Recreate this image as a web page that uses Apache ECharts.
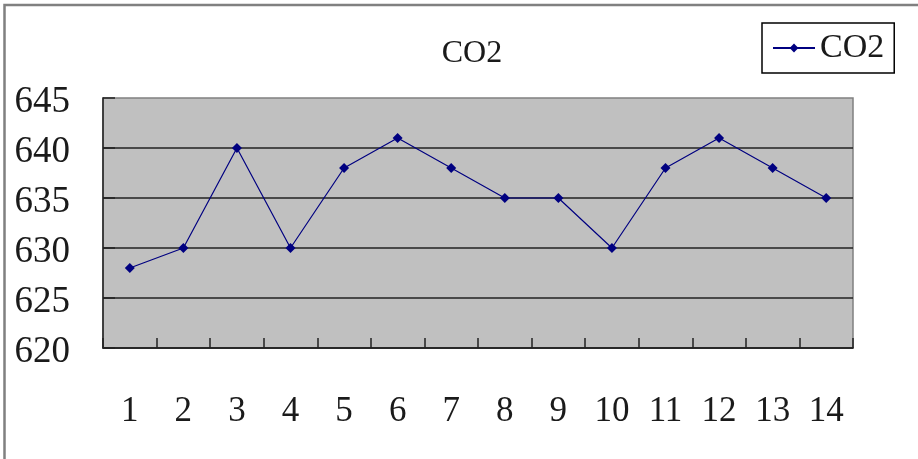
<!DOCTYPE html>
<html>
<head>
<meta charset="utf-8">
<script src="https://cdn.jsdelivr.net/npm/echarts@6/dist/echarts.min.js"></script>
<style>
html,body{margin:0;padding:0;background:#fff;}
#chart{width:918px;height:459px;}
</style>
</head>
<body>
<div id="chart"></div>
<script>
var categories = ['1','2','3','4','5','6','7','8','9','10','11','12','13','14'];
var co2Values = [628, 630, 640, 630, 638, 641, 638, 635, 635, 630, 638, 641, 638, 635];
var seriesName = 'CO2';
var titleText = 'CO2';

var FONT = '"Liberation Serif", "Times New Roman", serif';
var chart = echarts.init(document.getElementById('chart'), null, {renderer: 'canvas'});
chart.setOption({
  animation: false,
  backgroundColor: '#ffffff',
  title: {
    text: titleText,
    left: 467,
    textAlign: 'center',
    top: 33,
    textStyle: {fontFamily: FONT, fontSize: 32, fontWeight: 'normal', color: '#1a1a1a'}
  },
  legend: {
    data: [seriesName],
    left: 762,
    top: 23,
    padding: [8, 10, 8, 10],
    borderColor: '#000',
    borderWidth: 1.5,
    itemWidth: 42,
    itemHeight: 11,
    textStyle: {fontFamily: FONT, fontSize: 34, color: '#1a1a1a'}
  },
  graphic: [{
    type: 'rect',
    shape: {x: 4.5, y: 5, width: 1000, height: 1000},
    style: {fill: 'none', stroke: '#808080', lineWidth: 2.5},
    silent: true
  }],
  grid: {
    left: 103, right: 65, top: 98, bottom: 111,
    show: true,
    backgroundColor: '#c0c0c0',
    borderColor: '#808080',
    borderWidth: 1.5
  },
  xAxis: {
    type: 'category',
    data: categories,
    boundaryGap: true,
    axisLine: {lineStyle: {color: '#222', width: 1.5}},
    axisTick: {show: true, inside: true, length: 10, alignWithLabel: false, lineStyle: {color: '#222', width: 1.5}},
    axisLabel: {fontFamily: FONT, fontSize: 35, color: '#1a1a1a', margin: 46}
  },
  yAxis: {
    type: 'value',
    min: 620,
    max: 645,
    interval: 5,
    axisLine: {show: true, lineStyle: {color: '#222', width: 1.5}},
    axisTick: {show: true, inside: true, length: 12, lineStyle: {color: '#222', width: 1.5}},
    splitLine: {show: true, showMaxLine: false, lineStyle: {color: '#222', width: 1.5}},
    axisLabel: {
      margin: 33,
      formatter: '{a|{value}}',
      rich: {a: {fontFamily: FONT, fontSize: 37, color: '#1a1a1a', padding: [8, 0, 0, 0]}}
    }
  },
  series: [{
    name: seriesName,
    type: 'line',
    data: co2Values,
    symbol: 'diamond',
    symbolSize: 10,
    showAllSymbol: true,
    lineStyle: {color: '#000080', width: 1.2},
    itemStyle: {color: '#000080'}
  }]
});
</script>
</body>
</html>
